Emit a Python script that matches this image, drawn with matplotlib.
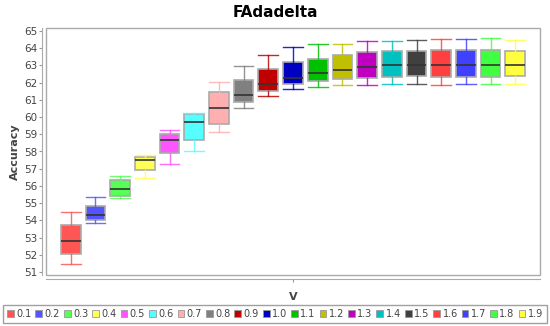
import matplotlib
matplotlib.use('Agg')
import matplotlib.pyplot as plt
from matplotlib.patches import Patch, Rectangle

# data
labels = ['0.1', '0.2', '0.3', '0.4', '0.5', '0.6', '0.7', '0.8', '0.9', '1.0',
          '1.1', '1.2', '1.3', '1.4', '1.5', '1.6', '1.7', '1.8', '1.9']
whis_hi = [54.48, 55.35, 56.56, 57.80, 59.25, 60.26, 62.02, 62.98, 63.62, 64.07,
           64.26, 64.26, 64.42, 64.42, 64.46, 64.52, 64.52, 64.58, 64.46]
q3 = [53.73, 54.81, 56.34, 57.70, 59.00, 60.18, 61.44, 62.15, 62.81, 63.22,
      63.39, 63.61, 63.78, 63.84, 63.84, 63.88, 63.88, 63.88, 63.84]
med = [52.80, 54.31, 55.82, 57.49, 58.67, 59.71, 60.51, 61.28, 61.90, 62.29,
       62.54, 62.75, 62.93, 63.02, 63.02, 63.02, 63.02, 63.02, 63.02]
q1 = [52.04, 54.04, 55.43, 56.92, 57.93, 58.67, 59.60, 60.89, 61.50, 61.92,
      62.11, 62.23, 62.29, 62.35, 62.39, 62.35, 62.35, 62.35, 62.39]
whis_lo = [51.46, 53.83, 55.30, 56.48, 57.25, 58.03, 59.11, 60.53, 61.22, 61.61,
           61.73, 61.85, 61.85, 61.90, 61.90, 61.85, 61.90, 61.90, 61.90]
colors = ['#ff5555', '#5555ff', '#55ff55', '#ffff55', '#ff55ff', '#55ffff',
          '#ffafaf', '#808080', '#c00000', '#0000c0', '#00c000', '#c0c000',
          '#c000c0', '#00c0c0', '#404040', '#ff4040', '#4040ff', '#40ff40', '#ffff40']

fig = plt.figure(figsize=(5.5, 3.26), dpi=100)
ax = fig.add_axes([46/550, 51/326, 494/550, 247/326])

stats = []
for i in range(len(labels)):
    stats.append({'med': med[i], 'q1': q1[i], 'q3': q3[i],
                  'whislo': whis_lo[i], 'whishi': whis_hi[i], 'fliers': []})

pos = list(range(len(labels)))
bp = ax.bxp(stats, positions=pos, widths=0.8, capwidths=0.8, patch_artist=True,
            showfliers=False,
            medianprops=dict(color='#333333', lw=1.2),
            boxprops=dict(edgecolor='#aaaaaa', lw=1.2))
for i, c in enumerate(colors):
    bp['boxes'][i].set_facecolor(c)
    for w in bp['whiskers'][2*i:2*i+2] + bp['caps'][2*i:2*i+2]:
        w.set_color(c)
        w.set_linewidth(1)
        w.set_alpha(0.85)

ax.set_xlim(-1, 19)
ax.set_ylim(50.83, 65.17)
ax.set_yticks(range(51, 66))
ax.set_xticks([9])
ax.set_xticklabels([''])

# frame + offset axis lines like the original
for s in ['top', 'right']:
    ax.spines[s].set_visible(False)
ax.spines['left'].set_position(('outward', 3))
ax.spines['bottom'].set_position(('outward', 3))
ax.spines['left'].set_color('#aaaaaa')
ax.spines['bottom'].set_color('#aaaaaa')
ax.add_patch(Rectangle((0, 0), 1, 1, transform=ax.transAxes, fill=False,
                       edgecolor='#aaaaaa', lw=1, clip_on=False))
ax.tick_params(axis='y', labelsize=7.5, labelcolor='#444444', length=2,
               color='#999999', pad=1)
ax.tick_params(axis='x', length=2, color='#999999')

ax.set_ylabel('Accuracy', fontsize=8, fontweight='bold', color='#444444', labelpad=3)
ax.set_xlabel('V', fontsize=8, fontweight='bold', color='#444444', labelpad=4)
fig.suptitle('FAdadelta', x=0.5, y=0.985, fontsize=11, fontweight='bold', va='top')

handles = [Patch(facecolor=c, edgecolor='#999999', lw=0.6) for c in colors]
leg = fig.legend(handles, labels, loc='lower center', bbox_to_anchor=(0.5, 0.0),
                 ncol=19, fontsize=7, frameon=True, fancybox=False,
                 handlelength=0.7, handleheight=0.7, handletextpad=0.25,
                 columnspacing=0.4, borderpad=0.4, borderaxespad=0.3)
leg.get_frame().set_edgecolor('#888888')
leg.get_frame().set_linewidth(1)
for t in leg.get_texts():
    t.set_color('#444444')

plt.savefig('out.png', dpi=100)
